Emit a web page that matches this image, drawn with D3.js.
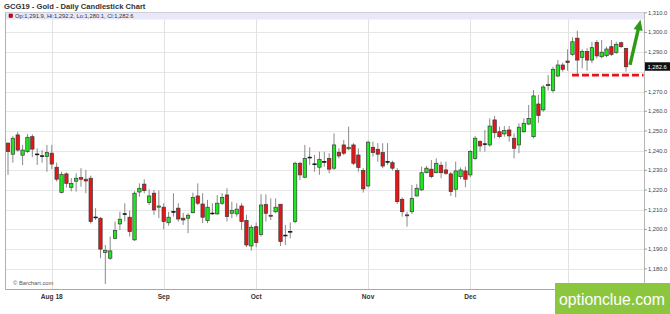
<!DOCTYPE html>
<html>
<head>
<meta charset="utf-8">
<script src="https://cdn.jsdelivr.net/npm/d3@7"></script>
<style>
  body { margin: 0; background: #fff; }
  svg { display: block; font-family: Arial, "Liberation Sans", sans-serif; }
</style>
</head>
<body>
<svg id="chart" width="670" height="314"></svg>
<script>
// trading days shown on the chart (GCG19 daily)
const dates = [
  "2018-07-19","2018-07-20","2018-07-23","2018-07-24","2018-07-25","2018-07-26","2018-07-27","2018-07-30","2018-07-31",
  "2018-08-01","2018-08-02","2018-08-03","2018-08-06","2018-08-07","2018-08-08","2018-08-09","2018-08-10","2018-08-13",
  "2018-08-14","2018-08-15","2018-08-16","2018-08-17","2018-08-20","2018-08-21","2018-08-22","2018-08-23","2018-08-24",
  "2018-08-27","2018-08-28","2018-08-29","2018-08-30","2018-08-31",
  "2018-09-04","2018-09-05","2018-09-06","2018-09-07","2018-09-10","2018-09-11","2018-09-12","2018-09-13","2018-09-14",
  "2018-09-17","2018-09-18","2018-09-19","2018-09-20","2018-09-21","2018-09-24","2018-09-25","2018-09-26","2018-09-27","2018-09-28",
  "2018-10-01","2018-10-02","2018-10-03","2018-10-04","2018-10-05","2018-10-08","2018-10-09","2018-10-10","2018-10-11","2018-10-12",
  "2018-10-15","2018-10-16","2018-10-17","2018-10-18","2018-10-19","2018-10-22","2018-10-23","2018-10-24","2018-10-25","2018-10-26",
  "2018-10-29","2018-10-30","2018-10-31",
  "2018-11-01","2018-11-02","2018-11-05","2018-11-06","2018-11-07","2018-11-08","2018-11-09","2018-11-12","2018-11-13","2018-11-14",
  "2018-11-15","2018-11-16","2018-11-19","2018-11-20","2018-11-21","2018-11-23","2018-11-26","2018-11-27","2018-11-28","2018-11-29","2018-11-30",
  "2018-12-03","2018-12-04","2018-12-05","2018-12-06","2018-12-07","2018-12-10","2018-12-11","2018-12-12","2018-12-13","2018-12-14",
  "2018-12-17","2018-12-18","2018-12-19","2018-12-20","2018-12-21","2018-12-24","2018-12-26","2018-12-27","2018-12-28","2018-12-31",
  "2019-01-02","2019-01-03","2019-01-04","2019-01-07","2019-01-08","2019-01-09","2019-01-10","2019-01-11","2019-01-14","2019-01-15",
  "2019-01-16","2019-01-17","2019-01-18"
];

const opens = [
  1243.8,1238.2,1248.0,1237.7,1239.5,1247.1,1238.3,1237.4,1237.0,1238.7,
  1231.6,1218.8,1228.2,1221.4,1224.5,1226.3,1225.5,1226.0,1206.3,1205.7,
  1188.3,1185.4,1195.5,1202.8,1208.0,1206.2,1194.7,1219.0,1223.0,1213.6,
  1218.4,1211.3,1211.3,1203.4,1209.1,1210.8,1205.7,1205.7,1208.5,1217.0,
  1212.9,1204.5,1208.3,1207.9,1213.3,1217.5,1208.2,1207.9,1211.9,1204.5,
  1191.6,1201.4,1197.4,1212.6,1207.2,1209.0,1212.8,1197.1,1198.8,1204.0,
  1233.6,1226.5,1236.7,1233.3,1231.6,1234.5,1236.1,1231.1,1239.2,1242.9,
  1240.9,1242.9,1237.8,1229.9,1222.1,1241.7,1240.7,1239.0,1234.5,1233.9,
  1229.9,1215.3,1207.4,1209.0,1217.0,1220.1,1228.8,1230.6,1228.8,1232.6,
  1230.2,1228.2,1220.4,1226.8,1229.7,1227.7,1236.1,1244.6,1243.5,1242.9,
  1255.6,1249.6,1248.5,1250.5,1246.3,1242.9,1249.6,1253.5,1247.1,1263.7,
  1260.7,1273.6,1270.5,1277.9,1283.5,1285.5,1288.9,1297.1,1287.4,1290.3,
  1286.0,1295.0,1287.7,1288.2,1292.8,1289.9,1294.8,1291.9
];
const highs = [
  1244.3,1247.5,1249.6,1242.9,1248.5,1248.3,1241.2,1240.3,1242.9,1242.9,
  1233.9,1229.3,1229.0,1226.1,1228.5,1231.1,1230.2,1227.3,1210.8,1206.2,
  1192.1,1196.4,1204.0,1209.0,1213.3,1209.5,1219.4,1223.4,1225.5,1220.4,
  1220.1,1219.7,1213.3,1208.9,1218.4,1213.3,1208.4,1208.2,1218.7,1223.4,
  1218.4,1215.0,1213.3,1217.5,1218.4,1220.9,1214.1,1213.3,1213.3,1207.4,
  1202.3,1203.5,1217.9,1217.8,1215.8,1215.8,1212.9,1202.3,1203.5,1234.4,
  1234.4,1242.9,1241.7,1237.8,1239.5,1239.5,1238.7,1248.8,1241.2,1245.4,
  1252.2,1243.8,1241.2,1231.1,1245.1,1244.6,1243.8,1243.8,1243.8,1234.9,
  1231.1,1216.3,1209.0,1222.6,1223.0,1231.9,1232.2,1235.3,1236.1,1234.4,
  1234.4,1229.3,1234.4,1231.5,1231.9,1240.3,1247.5,1245.4,1250.5,1256.4,
  1257.6,1252.2,1252.5,1252.5,1248.8,1253.9,1256.4,1263.2,1270.8,1268.3,
  1273.3,1278.4,1282.6,1286.0,1284.7,1291.5,1297.6,1300.9,1291.5,1292.0,
  1295.3,1296.2,1296.2,1292.8,1296.2,1295.3,1295.3,1292.2
];
const lows = [
  1227.7,1233.9,1239.5,1232.7,1238.8,1236.7,1232.7,1233.9,1229.3,1230.6,
  1224.3,1218.3,1221.3,1219.4,1219.2,1221.7,1218.4,1203.0,1204.8,1185.4,
  1172.3,1184.5,1195.0,1199.7,1204.0,1196.4,1194.2,1216.6,1218.4,1212.4,
  1207.4,1205.7,1200.1,1201.9,1206.5,1204.0,1202.3,1198.1,1208.2,1212.4,
  1203.2,1203.2,1207.4,1207.4,1212.4,1204.0,1205.7,1206.5,1199.7,1191.0,
  1189.2,1191.0,1196.4,1204.0,1204.8,1208.2,1191.6,1192.1,1195.5,1203.2,
  1225.1,1226.0,1232.7,1229.3,1227.7,1231.9,1228.5,1230.2,1236.1,1237.8,
  1240.3,1232.7,1229.3,1218.7,1221.3,1237.0,1234.4,1231.1,1232.7,1229.9,
  1213.0,1206.5,1201.4,1207.9,1216.8,1219.5,1228.5,1226.0,1228.5,1226.0,
  1227.7,1217.0,1216.3,1225.5,1221.4,1226.5,1235.3,1239.5,1239.5,1242.0,
  1246.3,1246.3,1247.1,1244.6,1236.1,1238.7,1249.1,1253.0,1246.3,1254.1,
  1259.8,1270.5,1269.4,1277.3,1280.1,1280.6,1288.1,1277.9,1281.8,1280.6,
  1284.4,1286.9,1286.9,1287.4,1288.1,1289.1,1292.0,1280.1
];
const closes = [
  1239.5,1246.3,1240.3,1240.3,1246.8,1240.8,1238.1,1237.2,1239.0,1233.2,
  1225.5,1228.0,1223.4,1223.4,1226.0,1225.5,1224.6,1204.0,1206.1,1190.0,
  1189.4,1189.1,1199.4,1205.2,1207.8,1198.9,1218.4,1220.9,1219.7,1217.0,
  1209.9,1211.9,1204.0,1206.2,1208.9,1205.3,1204.8,1207.2,1216.2,1213.3,
  1206.2,1211.3,1208.1,1213.3,1216.3,1206.5,1209.6,1210.3,1204.0,1192.1,
  1201.1,1193.3,1212.4,1208.2,1206.7,1211.3,1193.8,1196.9,1199.0,1233.6,
  1227.7,1236.1,1236.5,1233.1,1235.6,1234.3,1230.6,1242.9,1237.3,1238.7,
  1241.7,1233.6,1231.4,1220.6,1244.3,1239.0,1238.2,1232.2,1234.3,1231.1,
  1214.1,1209.0,1206.9,1215.8,1220.9,1228.8,1231.1,1226.8,1233.6,1228.8,
  1228.5,1219.2,1229.7,1230.2,1225.5,1239.5,1246.3,1242.4,1243.3,1252.5,
  1249.1,1247.1,1250.2,1247.5,1241.2,1251.9,1253.9,1256.4,1267.8,1257.8,
  1272.3,1273.0,1281.3,1283.5,1281.3,1284.7,1295.3,1286.0,1290.3,1286.0,
  1292.3,1288.1,1290.0,1291.6,1288.9,1294.0,1292.8,1282.6
];

// axis ticks (the January gridline has no visible label, it sits under the logo)
const monthTicks = ["2018-08-01","2018-09-04","2018-10-01","2018-11-01","2018-12-03","2019-01-02"];
const monthLabels = ["Aug 18","Sep","Oct","Nov","Dec"];
const priceTicks = [1180,1190,1200,1210,1220,1230,1240,1250,1260,1270,1280,1290,1300,1310];

// annotations drawn on top
const supportLevel = 1278.4;
const supportFrom = "2019-01-03";
const arrowFrom = 1283.5, arrowTo = 1306.5;

const W = 670, H = 314;
const plot = {left: 5.5, right: 644.5, top: 12.5, bottom: 289.5};
const fmt = d3.format(",.1f");

const svg = d3.select("#chart");

const x = d3.scalePoint().domain(dates).range([8, 626]);
const y = d3.scaleLinear().domain([1169.5, 1310]).range([plot.bottom, 12.8]);

const candles = dates.map((d, i) => ({date: d, o: opens[i], h: highs[i], l: lows[i], c: closes[i]}));
const last = candles[candles.length - 1];

// title
svg.append("text")
  .attr("x", 4).attr("y", 8.5)
  .attr("font-size", 7.6).attr("font-weight", "bold").attr("fill", "#333")
  .text("GCG19 - Gold - Daily Candlestick Chart");

// grid
const grid = svg.append("g");
grid.selectAll("line.h").data(priceTicks.filter(v => v < 1310)).join("line")
  .attr("x1", plot.left).attr("x2", plot.right)
  .attr("y1", d => Math.round(y(d)) + 0.5).attr("y2", d => Math.round(y(d)) + 0.5)
  .attr("stroke", "#e6e6e6");
grid.selectAll("line.v").data(monthTicks).join("line")
  .attr("x1", d => Math.round(x(d)) + 0.5).attr("x2", d => Math.round(x(d)) + 0.5)
  .attr("y1", plot.top).attr("y2", plot.bottom)
  .attr("stroke", "#e2e2e2");

// info band
svg.append("rect")
  .attr("x", plot.left).attr("y", plot.top).attr("width", plot.right - plot.left).attr("height", 7)
  .attr("fill", "#e8e8f8");
svg.append("line")
  .attr("x1", plot.left).attr("x2", plot.right).attr("y1", plot.top).attr("y2", plot.top)
  .attr("stroke", "#cfcfdc");
svg.append("rect")
  .attr("x", 9).attr("y", 14).attr("width", 3.5).attr("height", 3.5)
  .attr("fill", "#dd0000").attr("stroke", "#660000").attr("stroke-width", 0.5);
svg.append("text")
  .attr("x", 15).attr("y", 18.3)
  .attr("font-size", 5.8).attr("fill", "#333")
  .text(`Op:${fmt(last.o)}, Hi:${fmt(last.h)}, Lo:${fmt(last.l)}, Cl:${fmt(last.c)}`);

// plot frame: left border, bottom axis, right axis
svg.append("line").attr("x1", plot.left).attr("x2", plot.left).attr("y1", plot.top).attr("y2", plot.bottom)
  .attr("stroke", "#b0b0b0");
svg.append("line").attr("x1", plot.left).attr("x2", plot.right).attr("y1", plot.bottom).attr("y2", plot.bottom)
  .attr("stroke", "#a8a8a8");
svg.append("line").attr("x1", plot.right).attr("x2", plot.right).attr("y1", plot.top).attr("y2", plot.bottom)
  .attr("stroke", "#b8b8b8");

// right axis labels (the 1,280 label is hidden behind the last-price box)
const yTicks = priceTicks.filter(v => Math.abs(y(v) - y(last.c)) > 7);
const yAxis = svg.append("g");
yAxis.selectAll("line").data(yTicks).join("line")
  .attr("x1", plot.right).attr("x2", plot.right + 2.5)
  .attr("y1", d => y(d)).attr("y2", d => y(d))
  .attr("stroke", "#777").attr("stroke-width", 0.7);
yAxis.selectAll("text").data(yTicks).join("text")
  .attr("x", plot.right + 3.5).attr("y", d => y(d) + 2)
  .attr("font-size", 5.8).attr("fill", "#444")
  .text(d => fmt(d));

// bottom axis labels
svg.append("g").selectAll("text").data(monthLabels).join("text")
  .attr("x", (d, i) => x(monthTicks[i])).attr("y", 299)
  .attr("text-anchor", "middle").attr("font-size", 6.6).attr("font-weight", "bold").attr("fill", "#333")
  .text(d => d);

svg.append("text")
  .attr("x", 13).attr("y", 285)
  .attr("font-size", 5.8).attr("fill", "#555")
  .text("\u00A9 Barchart.com");

// candles
const cg = svg.append("g");
cg.selectAll("line").data(candles).join("line")
  .attr("x1", d => x(d.date)).attr("x2", d => x(d.date))
  .attr("y1", d => y(d.h)).attr("y2", d => y(d.l))
  .attr("stroke", "#8a8a8a").attr("stroke-width", 1);
cg.selectAll("rect").data(candles).join("rect")
  .attr("x", d => x(d.date) - 1.7).attr("width", 3.4)
  .attr("y", d => y(Math.max(d.o, d.c)))
  .attr("height", d => Math.max(0.8, Math.abs(y(d.o) - y(d.c))))
  .attr("fill", d => Math.abs(d.o - d.c) < 0.3 ? "#111" : (d.c > d.o ? "#1ee81e" : "#e81515"))
  .attr("stroke", d => Math.abs(d.o - d.c) < 0.3 ? "#111" : "#3a3a3a")
  .attr("stroke-width", 0.7);

// last price box
svg.append("rect")
  .attr("x", plot.right + 0.5).attr("y", y(last.c) - 4.5).attr("width", W - plot.right).attr("height", 8.5)
  .attr("fill", "#111");
svg.append("text")
  .attr("x", plot.right + 3).attr("y", y(last.c) + 2)
  .attr("font-size", 5.8).attr("fill", "#fff")
  .text(fmt(last.c));

// red dashed support line
svg.append("line")
  .attr("x1", x(supportFrom) - 0.5).attr("x2", plot.right - 1)
  .attr("y1", y(supportLevel)).attr("y2", y(supportLevel))
  .attr("stroke", "#e3151a").attr("stroke-width", 2.7).attr("stroke-dasharray", "7,3");

// green arrow
const ax1 = x(last.date) + 4, ay1 = y(arrowFrom);
const ax2 = x(last.date) + 14.5, ay2 = y(arrowTo);
const ang = Math.atan2(ay2 - ay1, ax2 - ax1);
const headLen = 10.5, headHalf = 4.6;
const ux = Math.cos(ang), uy = Math.sin(ang);
const bx = ax2 - ux * headLen, by = ay2 - uy * headLen;
svg.append("line")
  .attr("x1", ax1).attr("y1", ay1).attr("x2", bx + ux).attr("y2", by + uy)
  .attr("stroke", "#2f9a18").attr("stroke-width", 3.4);
svg.append("path")
  .attr("d", d3.line()([[ax2, ay2], [bx - uy * headHalf, by + ux * headHalf], [bx + uy * headHalf, by - ux * headHalf]]) + "Z")
  .attr("fill", "#2f9a18");

// watermark logo
svg.append("rect")
  .attr("x", 555).attr("y", 283).attr("width", 115).attr("height", 31)
  .attr("fill", "#8cc63f");
svg.append("text")
  .attr("x", 559).attr("y", 304.5)
  .attr("font-size", 16).attr("fill", "#fff")
  .attr("textLength", 106).attr("lengthAdjust", "spacingAndGlyphs")
  .text("optionclue.com");
</script>
</body>
</html>
